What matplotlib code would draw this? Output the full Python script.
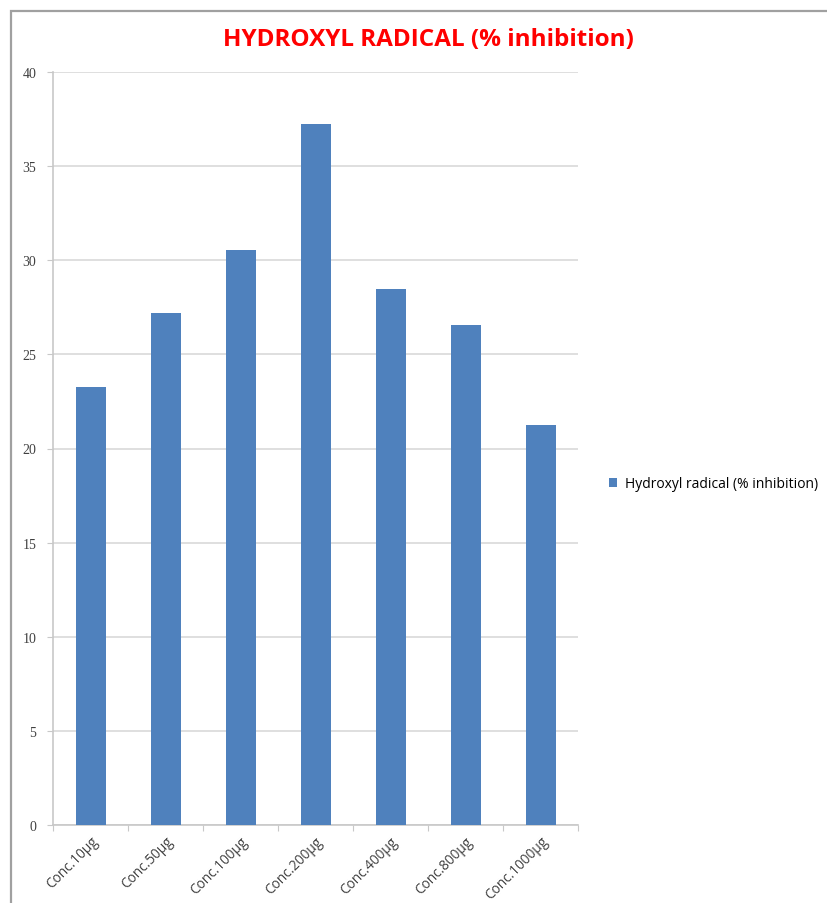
import matplotlib
matplotlib.use("Agg")
import matplotlib.pyplot as plt
from matplotlib.patches import Rectangle

categories = ["Conc.10µg", "Conc.50µg", "Conc.100µg", "Conc.200µg",
              "Conc.400µg", "Conc.800µg", "Conc.1000µg"]
inhibition = [23.25, 27.2, 30.55, 37.25, 28.48, 26.58, 21.25]
series_name = "Hydroxyl radical (% inhibition)"
title = "HYDROXYL RADICAL (% inhibition)"
y_ticks = [0, 5, 10, 15, 20, 25, 30, 35, 40]

W, H = 827, 904
fig = plt.figure(figsize=(W / 100, H / 100), dpi=100)

# outer chart frame
fig.patches.append(Rectangle((11 / W, -0.01), 1.02, 1 - 12 / H + 0.01,
                             transform=fig.transFigure, fill=False,
                             edgecolor="#a0a0a0", linewidth=1.6))

ax = fig.add_axes([53 / W, 1 - 826 / H, (578 - 53) / W, (826 - 73) / H])
x = list(range(len(categories)))
bars = ax.bar(x, inhibition, width=0.4, color="#4f81bd", label=series_name, zorder=3)

ax.set_xlim(-0.5, len(categories) - 0.5)
ax.set_ylim(0, 40)
ax.set_yticks(y_ticks)
ax.set_yticklabels([str(t) for t in y_ticks], family="Liberation Serif",
                   fontsize=10, color="#404040")
ax.yaxis.grid(True, color="#d9d9d9", linewidth=1.2, zorder=0)
ax.set_axisbelow(True)

for side in ("top", "right"):
    ax.spines[side].set_visible(False)
for side in ("left", "bottom"):
    ax.spines[side].set_color("#c8c8c8")
    ax.spines[side].set_linewidth(1.2)

ax.tick_params(axis="y", length=4, color="#c8c8c8", pad=8)
ax.set_xticks([i - 0.5 for i in range(len(categories) + 1)], minor=False)
ax.set_xticklabels([])
ax.tick_params(axis="x", which="major", length=4, color="#c8c8c8")
ax.set_xticks(x, minor=True)
ax.set_xticklabels(categories, minor=True, rotation=45, ha="right",
                   rotation_mode="anchor", fontsize=9.8, color="#404040",
                   family="Open Sans")
ax.tick_params(axis="x", which="minor", length=0, pad=6)

fig.text(428 / W, 1 - 40 / H, title, ha="center", va="center",
         color="#ff0000", fontsize=17.5, fontweight="bold", family="Open Sans")

fig.legend(handles=[bars], labels=[series_name], loc="center left",
           bbox_to_anchor=(596 / W, 1 - 485 / H), frameon=False,
           handlelength=0.6, handleheight=0.6, handletextpad=0.6,
           prop={"family": "Open Sans", "size": 10})

fig.savefig("out.png", dpi=100)
